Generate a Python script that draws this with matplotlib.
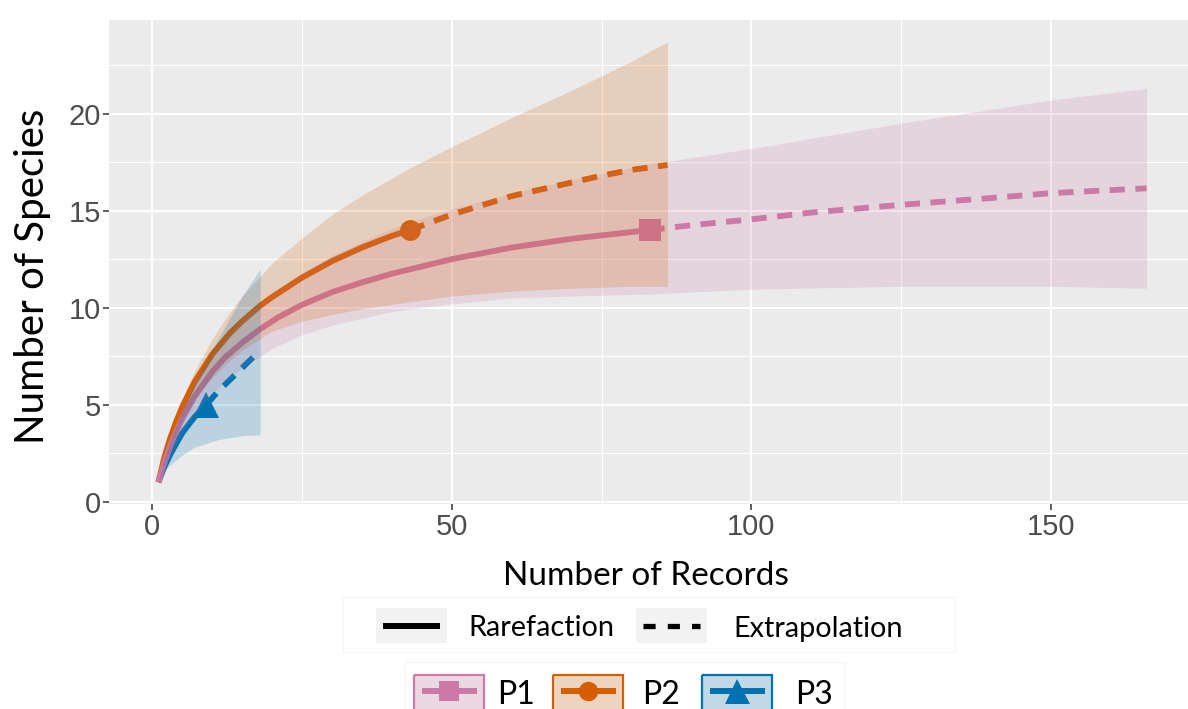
import numpy as np
import matplotlib.pyplot as plt
from matplotlib.patches import Rectangle
from matplotlib.ticker import MultipleLocator

# cores (paleta usada no grafico original)
c_p1 = '#CC79A7'
c_p2 = '#D55E00'
c_p3 = '#0072B2'

# P1 - rarefacao / extrapolacao
p1_x_rar = [1, 2, 3, 4, 5, 7, 10, 12, 15, 18, 21, 25, 30, 35, 40, 50, 60, 70, 83]
p1_y_rar = [1, 2.0, 2.9, 3.65, 4.3, 5.4, 6.7, 7.4, 8.2, 8.9, 9.5, 10.15, 10.8, 11.3, 11.75, 12.5, 13.1, 13.55, 14.0]
p1_x_ext = [83, 90, 100, 110, 125, 140, 150, 166]
p1_y_ext = [14.0, 14.25, 14.55, 14.9, 15.3, 15.65, 15.9, 16.15]
p1_x_ic = [1, 3, 5, 7, 10, 15, 20, 25, 30, 40, 50, 60, 70, 83, 100, 125, 150, 166]
p1_lo = [1, 2.4, 3.6, 4.5, 5.6, 6.9, 7.9, 8.6, 9.1, 9.8, 10.2, 10.5, 10.6, 10.7, 10.95, 11.1, 11.1, 11.0]
p1_hi = [1, 3.3, 5.0, 6.2, 7.6, 9.4, 10.8, 11.8, 12.7, 14.1, 15.1, 15.9, 16.6, 17.4, 18.2, 19.5, 20.7, 21.3]

# P2
p2_x_rar = [1, 2, 3, 4, 5, 7, 10, 13, 15, 18, 20, 25, 30, 35, 40, 43]
p2_y_rar = [1, 2.3, 3.3, 4.15, 4.9, 6.15, 7.6, 8.7, 9.3, 10.1, 10.55, 11.55, 12.4, 13.1, 13.7, 14.0]
p2_x_ext = [43, 50, 60, 70, 75, 80, 86]
p2_y_ext = [14.0, 14.8, 15.75, 16.45, 16.8, 17.1, 17.35]
p2_x_ic = [1, 3, 5, 7, 10, 13, 15, 18, 20, 25, 30, 35, 43, 50, 60, 70, 80, 86]
p2_lo = [1, 2.9, 4.3, 5.3, 6.4, 7.3, 7.8, 8.4, 8.8, 9.3, 9.65, 9.95, 10.3, 10.6, 10.85, 11.0, 11.1, 11.1]
p2_hi = [1, 3.5, 5.3, 6.7, 8.4, 9.8, 10.6, 11.6, 12.3, 13.6, 14.8, 15.8, 17.2, 18.3, 19.8, 21.2, 22.7, 23.7]

# P3
p3_x_rar = [1, 2, 3, 5, 7, 9]
p3_y_rar = [1, 1.8, 2.45, 3.55, 4.35, 5.0]
p3_x_ext = [9, 11, 13, 15, 18]
p3_y_ext = [5.0, 5.7, 6.3, 6.9, 7.8]
p3_x_ic = [1, 2, 3, 5, 7, 9, 11, 13, 15, 18]
p3_lo = [1, 1.6, 1.9, 2.4, 2.8, 3.0, 3.2, 3.3, 3.4, 3.45]
p3_hi = [1, 2.2, 3.1, 4.7, 6.1, 7.3, 8.4, 9.5, 10.6, 12.0]

# pontos observados
obs_x = [83, 43, 9]
obs_y = [14, 14, 5]

sites = ['P1', 'P2', 'P3']
cores = [c_p1, c_p2, c_p3]
marcas = ['s', 'o', '^']
tam_marca = [16, 15, 19]

fonte_txt = 'Lato'
fonte_num = 'Liberation Sans'

fig = plt.figure(figsize=(11.88, 7.09), dpi=100)
ax = fig.add_axes([109 / 1188, 1 - 504.3 / 709, (1196 - 109) / 1188, (504.3 - 19.8) / 709])
ax.set_facecolor('#EBEBEB')
for s in ax.spines.values():
    s.set_visible(False)

dados = [
    (p1_x_rar, p1_y_rar, p1_x_ext, p1_y_ext, p1_x_ic, p1_lo, p1_hi),
    (p2_x_rar, p2_y_rar, p2_x_ext, p2_y_ext, p2_x_ic, p2_lo, p2_hi),
    (p3_x_rar, p3_y_rar, p3_x_ext, p3_y_ext, p3_x_ic, p3_lo, p3_hi),
]

# linhas (ordem: P3, P2, P1 por cima)
for i in [2, 1, 0]:
    xr, yr, xe, ye, xi, lo, hi = dados[i]
    ax.plot(xr, yr, color=cores[i], lw=4.2, solid_capstyle='butt',
            solid_joinstyle='round', zorder=2)
    ax.plot(xe, ye, color=cores[i], lw=4.2, dashes=(2.6, 1.8),
            dash_capstyle='butt', zorder=2)
    ax.plot(obs_x[i], obs_y[i], marker=marcas[i], ms=tam_marca[i],
            color=cores[i], mew=0, zorder=2.5)

# faixas de confianca por cima das linhas (como no ggiNEXT)
for i in range(3):
    xr, yr, xe, ye, xi, lo, hi = dados[i]
    ax.fill_between(xi, lo, hi, color=cores[i], alpha=0.2, lw=0, zorder=3)

ax.set_xlim(-7.25, 174.25)
ax.set_ylim(-0.135, 24.835)
ax.xaxis.set_major_locator(MultipleLocator(50))
ax.xaxis.set_minor_locator(MultipleLocator(25))
ax.yaxis.set_major_locator(MultipleLocator(5))
ax.yaxis.set_minor_locator(MultipleLocator(2.5))
ax.grid(which='major', color='white', lw=1.4)
ax.grid(which='minor', color='white', lw=0.8)
ax.set_axisbelow(True)
ax.tick_params(which='major', length=4.5, width=1.1, color='#333333',
               labelcolor='#4D4D4D', labelsize=21)
ax.tick_params(axis='x', pad=2)
ax.tick_params(axis='y', pad=1.5)
ax.tick_params(which='minor', length=0)
for lab in ax.get_xticklabels() + ax.get_yticklabels():
    lab.set_family(fonte_num)

# camada em pixels para titulos e legendas
lg = fig.add_axes([0, 0, 1, 1])
lg.set_xlim(0, 1188)
lg.set_ylim(709, 0)
lg.axis('off')
lg.patch.set_visible(False)

lg.text(645.5, 585, 'Number of Records', family=fonte_txt, fontsize=24,
        ha='center', va='baseline', color='black')
lg.text(44, 276, 'Number of Species', family=fonte_txt, fontsize=29,
        ha='center', va='baseline', rotation=90, rotation_mode='anchor',
        color='black')

# legenda do tipo de linha
lg.add_patch(Rectangle((343, 597), 612, 55, fc='white', ec='#F6F6F6', lw=1))
lg.add_patch(Rectangle((376, 608), 71, 35, fc='#F2F2F2', ec='none'))
lg.plot([383, 440], [626, 626], color='black', lw=4.3, solid_capstyle='butt')
lg.text(468, 626, 'Rarefaction', family=fonte_txt, fontsize=20.8,
        ha='left', va='center_baseline')
lg.add_patch(Rectangle((636, 608), 71, 35, fc='#F2F2F2', ec='none'))
lg.plot([643, 700], [626, 626], color='black', lw=3.8, dashes=(2.3, 2.3),
        dash_capstyle='butt')
lg.text(733, 626, 'Extrapolation', family=fonte_txt, fontsize=20.8,
        ha='left', va='center_baseline')

# legenda dos sitios
lg.add_patch(Rectangle((405, 662), 440, 60, fc='white', ec='#F6F6F6', lw=1))
caixa_x = [414, 553, 702]
texto_x = [497, 642, 795]
for i in range(3):
    bx = caixa_x[i]
    lg.add_patch(Rectangle((bx, 675), 70, 36, fc='#F2F2F2', ec='none'))
    lg.add_patch(Rectangle((bx, 675), 70, 36, fc=cores[i], alpha=0.2, ec='none'))
    lg.add_patch(Rectangle((bx, 675), 70, 36, fc='none', ec=cores[i], lw=1.6))
    lg.plot([bx + 8, bx + 63], [691, 691], color=cores[i], lw=4.3,
            solid_capstyle='butt')
    lg.plot(bx + 35, 691, marker=marcas[i], ms=tam_marca[i] - 1,
            color=cores[i], mew=0)
    lg.text(texto_x[i], 692, sites[i], family=fonte_txt, fontsize=23,
            ha='left', va='center_baseline')

fig.savefig('out.png', dpi=100)
